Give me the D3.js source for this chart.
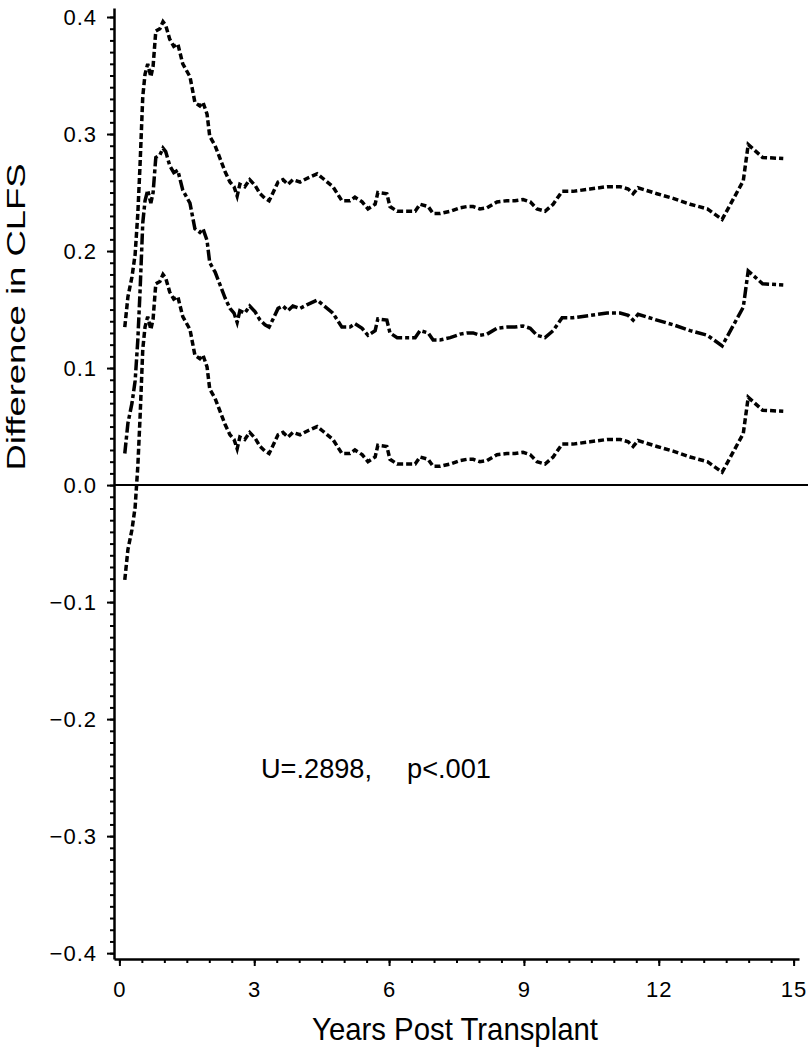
<!DOCTYPE html>
<html>
<head>
<meta charset="utf-8">
<script src="https://cdnjs.cloudflare.com/ajax/libs/d3/7.8.5/d3.min.js"></script>
<style>
    body { margin: 0; background: #fff; }
    text { font-family: "Liberation Sans", Arial, Helvetica, sans-serif; fill: #000; }
</style>
</head>
<body>
<div id="chart"></div>
<script>
var years = [
    0.12,0.19,0.28,0.35,0.41,0.46,0.52,0.57,0.63,0.70,
    0.75,0.81,0.90,0.97,1.03,1.12,1.21,1.30,1.41,1.57,
    1.68,1.79,1.86,1.95,2.01,2.13,2.24,2.35,2.46,2.55,
    2.62,2.68,2.79,2.90,3.02,3.13,3.24,3.33,3.42,3.53,
    3.64,3.75,3.86,4.02,4.17,4.40,4.53,4.75,4.95,5.13,
    5.24,5.40,5.53,5.69,5.75,5.95,6.02,6.18,6.40,6.58,
    6.69,6.87,6.98,7.13,7.36,7.58,7.73,7.87,8.02,8.18,
    8.40,8.62,8.80,8.98,9.14,9.29,9.47,9.65,9.85,10.09,
    10.47,10.85,11.14,11.32,11.43,11.54,11.96,12.32,12.70,13.08,
    13.41,13.88,13.99,14.31,14.77
];

// estimated difference (dash-dot)
var estimate = [
    0.027,0.053,0.070,0.089,0.124,0.166,0.224,0.243,0.252,0.241,
    0.250,0.280,0.282,0.288,0.285,0.273,0.267,0.269,0.252,0.241,
    0.219,0.216,0.219,0.209,0.190,0.182,0.171,0.160,0.151,0.147,
    0.139,0.149,0.147,0.153,0.148,0.141,0.137,0.135,0.142,0.151,
    0.153,0.149,0.153,0.151,0.154,0.158,0.154,0.147,0.135,0.135,
    0.138,0.134,0.128,0.132,0.142,0.141,0.130,0.126,0.126,0.126,
    0.132,0.130,0.124,0.124,0.126,0.129,0.130,0.130,0.128,0.129,
    0.134,0.135,0.135,0.136,0.134,0.128,0.126,0.132,0.143,0.143,
    0.145,0.147,0.147,0.145,0.141,0.146,0.141,0.137,0.132,0.128,
    0.119,0.152,0.183,0.172,0.171
];

var upper = [
    0.135,0.161,0.178,0.197,0.232,0.274,0.332,0.351,0.360,0.349,
    0.358,0.388,0.390,0.396,0.393,0.381,0.375,0.377,0.360,0.349,
    0.327,0.324,0.327,0.317,0.298,0.290,0.279,0.268,0.259,0.255,
    0.247,0.257,0.255,0.261,0.256,0.249,0.245,0.243,0.250,0.259,
    0.261,0.257,0.261,0.259,0.262,0.266,0.262,0.255,0.243,0.243,
    0.246,0.242,0.236,0.240,0.250,0.249,0.238,0.234,0.234,0.234,
    0.240,0.238,0.232,0.232,0.234,0.237,0.238,0.238,0.236,0.237,
    0.242,0.243,0.243,0.244,0.242,0.236,0.234,0.240,0.251,0.251,
    0.253,0.255,0.255,0.253,0.249,0.254,0.249,0.245,0.240,0.236,
    0.227,0.260,0.291,0.280,0.279
];

var lower = [
    -0.081,-0.055,-0.038,-0.019,0.016,0.058,0.116,0.135,0.144,0.133,
    0.142,0.172,0.174,0.180,0.177,0.165,0.159,0.161,0.144,0.133,
    0.111,0.108,0.111,0.101,0.082,0.074,0.063,0.052,0.043,0.039,
    0.031,0.041,0.039,0.045,0.040,0.033,0.029,0.027,0.034,0.043,
    0.045,0.041,0.045,0.043,0.046,0.050,0.046,0.039,0.027,0.027,
    0.030,0.026,0.020,0.024,0.034,0.033,0.022,0.018,0.018,0.018,
    0.024,0.022,0.016,0.016,0.018,0.021,0.022,0.022,0.020,0.021,
    0.026,0.027,0.027,0.028,0.026,0.020,0.018,0.024,0.035,0.035,
    0.037,0.039,0.039,0.037,0.033,0.038,0.033,0.029,0.024,0.020,
    0.011,0.044,0.075,0.064,0.063
];

var xTicks = [0, 3, 6, 9, 12, 15];
var yTicks = [-0.4, -0.3, -0.2, -0.1, 0, 0.1, 0.2, 0.3, 0.4];

(function() {
    var width = 808;
    var height = 1050;

    var svg = d3.select("#chart").append("svg")
        .attr("width", width)
        .attr("height", height);

    var x = d3.scaleLinear().domain([-0.12, 15.12]).range([114, 799]);
    var y = d3.scaleLinear().domain([-0.405, 0.4077]).range([959, 8]);

    var yMinor = d3.range(-40, 41).map(function(i) { return i / 100; });
    var xMinor = d3.range(0, 31).map(function(i) { return i / 2; });

    // minor ticks first, no labels
    svg.append("g")
        .attr("transform", "translate(" + x.range()[0] + ",0)")
        .call(d3.axisLeft(y).tickValues(yMinor).tickSize(4).tickSizeOuter(0).tickFormat(""))
        .call(function(g) { g.select(".domain").remove(); });

    svg.append("g")
        .attr("transform", "translate(0," + y.range()[0] + ")")
        .call(d3.axisBottom(x).tickValues(xMinor).tickSize(4).tickSizeOuter(0).tickFormat(""))
        .call(function(g) { g.select(".domain").remove(); });

    svg.append("g")
        .attr("transform", "translate(" + x.range()[0] + ",0)")
        .call(d3.axisLeft(y).tickValues(yTicks).tickSize(7).tickSizeOuter(0)
            .tickPadding(10).tickFormat(d3.format(".1f")));

    svg.append("g")
        .attr("transform", "translate(0," + y.range()[0] + ")")
        .call(d3.axisBottom(x).tickValues(xTicks).tickSize(7).tickSizeOuter(0)
            .tickPadding(15));

    svg.selectAll(".tick line").attr("stroke", "#000").attr("stroke-width", 2);
    svg.selectAll(".domain").attr("stroke", "#000").attr("stroke-width", 2.5);
    svg.selectAll(".tick text")
        .attr("font-family", "'Liberation Sans', Arial, sans-serif")
        .attr("font-size", 22)
        .attr("letter-spacing", 1)
        .attr("fill", "#000");

    // reference line at zero
    svg.append("line")
        .attr("x1", x.range()[0])
        .attr("x2", width)
        .attr("y1", y(0))
        .attr("y2", y(0))
        .attr("stroke", "#000")
        .attr("stroke-width", 2);

    var line = d3.line()
        .x(function(d) { return x(d[0]); })
        .y(function(d) { return y(d[1]); });

    var series = [
        { values: upper, dash: "6,3" },
        { values: estimate, dash: "11,3,4,3" },
        { values: lower, dash: "6,3" }
    ];

    svg.selectAll(".curve")
        .data(series)
        .enter()
        .append("path")
        .attr("class", "curve")
        .attr("d", function(s) {
            return line(years.map(function(t, i) { return [t, s.values[i]]; }));
        })
        .attr("fill", "none")
        .attr("stroke", "#000")
        .attr("stroke-width", 3.5)
        .attr("stroke-dasharray", function(s) { return s.dash; });

    svg.append("text")
        .attr("x", 261)
        .attr("y", 778)
        .attr("font-size", 27)
        .attr("textLength", 111)
        .attr("lengthAdjust", "spacingAndGlyphs")
        .text("U=.2898,");

    svg.append("text")
        .attr("x", 407)
        .attr("y", 778)
        .attr("font-size", 27)
        .attr("textLength", 84)
        .attr("lengthAdjust", "spacingAndGlyphs")
        .text("p<.001");

    svg.append("text")
        .attr("x", 455)
        .attr("y", 1040)
        .attr("text-anchor", "middle")
        .attr("font-size", 32)
        .attr("textLength", 286)
        .attr("lengthAdjust", "spacingAndGlyphs")
        .text("Years  Post  Transplant");

    svg.append("text")
        .attr("transform", "translate(25,317) rotate(-90)")
        .attr("text-anchor", "middle")
        .attr("font-size", 25)
        .attr("textLength", 307)
        .attr("lengthAdjust", "spacingAndGlyphs")
        .text("Difference  in  CLFS");
})();
</script>
</body>
</html>
